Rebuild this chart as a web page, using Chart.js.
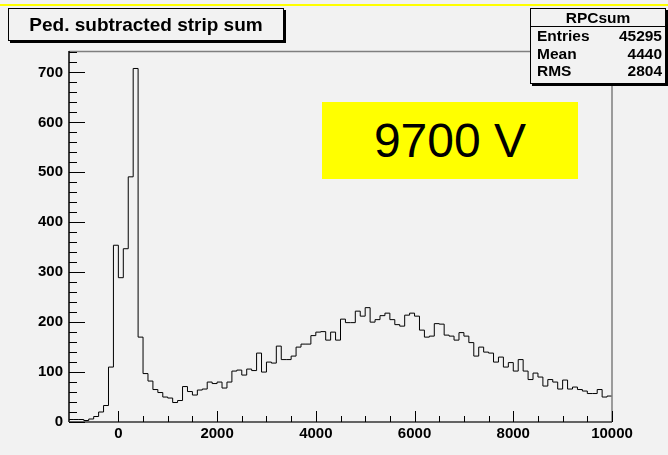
<!DOCTYPE html>
<html>
<head>
<meta charset="utf-8">
<script src="https://cdn.jsdelivr.net/npm/chart.js@4/dist/chart.umd.min.js"></script>
<style>
  html, body { margin: 0; padding: 0; background: #f2f2f2; }
  #wrap { position: relative; width: 668px; height: 455px; background: #f2f2f2; overflow: hidden; font-family: "Liberation Sans", Arial, sans-serif; }
  #topline { position: absolute; left: 0; top: 4px; width: 668px; height: 2px; background: #ffff00; }
  #c { position: absolute; left: 0; top: 0; }
  .box { position: absolute; background: #f2f2f2; border: 1px solid #000; box-shadow: 2px 2px 0 #000; box-sizing: border-box; }
  #title { left: 8px; top: 8px; width: 276px; height: 33px; font-weight: bold; font-size: 19px; text-align: center; line-height: 31px; color: #000; }
  #stats { left: 530px; top: 8px; width: 136px; height: 76px; font-weight: bold; font-size: 15.5px; color: #000; }
  #stats .hd { text-align: center; height: 17px; line-height: 17px; border-bottom: 1px solid #000; }
  #stats .row { position: relative; height: 17.5px; line-height: 17.5px; padding: 0 3px 0 6px; }
  #stats .row span.v { position: absolute; right: 3px; }
  #label { position: absolute; left: 322px; top: 102px; width: 256px; height: 77px; background: #ffff00; color: #000; font-size: 48px; text-align: center; line-height: 77px; }
</style>
</head>
<body>
<div id="wrap">
  <div id="topline"></div>
  <canvas id="c" width="668" height="455"></canvas>
  <div class="box" id="title">Ped. subtracted strip sum</div>
  <div class="box" id="stats">
    <div class="hd" id="statsName"></div>
    <div class="row"><span>Entries</span><span class="v" id="sEntries"></span></div>
    <div class="row"><span>Mean</span><span class="v" id="sMean"></span></div>
    <div class="row"><span>RMS</span><span class="v" id="sRms"></span></div>
  </div>
  <div id="label">9700 V</div>
</div>
<script>
// ---- data ----
const histName = "RPCsum";
const statEntries = 45295;
const statMean = 4440;
const statRms = 2804;
const binStart = -1000;
const binWidth = 100;
const counts = [
  5, 5, 5, 3, 6, 11, 20, 33, 110, 354,
  289, 347, 491, 708, 170, 97, 82, 65, 59, 50,
  48, 39, 43, 71, 61, 54, 64, 66, 80, 77,
  80, 68, 80, 102, 104, 94, 106, 103, 138, 100,
  120, 118, 152, 125, 125, 132, 150, 156, 156, 173,
  180, 181, 164, 180, 164, 206, 199, 199, 222, 212,
  229, 200, 205, 213, 218, 205, 195, 192, 214, 218,
  212, 184, 170, 172, 197, 196, 174, 172, 164, 179,
  172, 159, 132, 150, 140, 138, 120, 130, 110, 119,
  102, 125, 102, 85, 98, 90, 72, 85, 80, 66,
  84, 66, 70, 65, 62, 57, 57, 65, 50, 52
];
const xTickLabels = [0, 2000, 4000, 6000, 8000, 10000];
const yTickLabels = [0, 100, 200, 300, 400, 500, 600, 700];
const xMin = -1000, xMax = 10000;
const yMin = 0, yMax = 743;

document.getElementById('statsName').textContent = histName;
document.getElementById('sEntries').textContent = statEntries;
document.getElementById('sMean').textContent = statMean;
document.getElementById('sRms').textContent = statRms;

const points = counts.map((c, i) => ({ x: binStart + i * binWidth, y: c }));
points.push({ x: binStart + counts.length * binWidth, y: counts[counts.length - 1] });

const tickFont = { family: "'Liberation Sans', Arial, sans-serif", size: 15, weight: 'bold' };

const frameTicks = {
  id: 'frameTicks',
  afterDatasetsDraw(chart) {
    const { ctx, chartArea: a, scales: { x, y } } = chart;
    ctx.save();
    ctx.strokeStyle = '#7f7f7f';
    ctx.lineWidth = 1.5;
    ctx.beginPath();
    ctx.moveTo(a.left, a.top + 0.5); ctx.lineTo(a.right, a.top + 0.5);
    ctx.moveTo(a.right, a.top); ctx.lineTo(a.right, a.bottom);
    ctx.stroke();
    ctx.strokeStyle = '#000';
    ctx.lineWidth = 1.5;
    ctx.beginPath();
    ctx.moveTo(a.left, a.top); ctx.lineTo(a.left, a.bottom);
    ctx.stroke();
    ctx.strokeStyle = '#333';
    ctx.beginPath();
    ctx.moveTo(a.left, a.bottom); ctx.lineTo(a.right, a.bottom);
    ctx.stroke();
    ctx.strokeStyle = '#000';
    ctx.lineWidth = 1;
    ctx.beginPath();
    for (let v = 0; v <= yMax; v += 20) {
      const py = Math.round(y.getPixelForValue(v)) + 0.5;
      const len = (v % 100 === 0) ? 16 : 8;
      ctx.moveTo(a.left, py); ctx.lineTo(a.left + len, py);
    }
    ctx.stroke();
    ctx.beginPath();
    for (let v = 0; v <= xMax; v += 500) {
      const px = Math.round(x.getPixelForValue(v)) + 0.5;
      const len = (v % 2000 === 0) ? 11 : 6;
      ctx.moveTo(px, a.bottom); ctx.lineTo(px, a.bottom - len);
    }
    ctx.stroke();
    ctx.restore();
  }
};

new Chart(document.getElementById('c'), {
  type: 'line',
  data: {
    datasets: [{
      data: points,
      stepped: 'before',
      borderColor: '#000',
      borderWidth: 1,
      pointRadius: 0,
      fill: false,
      tension: 0
    }]
  },
  options: {
    responsive: false,
    animation: false,
    events: [],
    layout: { padding: { left: 0, right: 56, top: 51, bottom: 0 } },
    plugins: { legend: { display: false }, tooltip: { enabled: false }, title: { display: false } },
    scales: {
      x: {
        type: 'linear', min: xMin, max: xMax,
        grid: { display: false, drawTicks: false },
        border: { display: false },
        afterBuildTicks: (s) => { s.ticks = xTickLabels.map(v => ({ value: v })); },
        afterFit: (s) => { s.height = 33; },
        ticks: { font: tickFont, color: '#000', padding: 3, maxRotation: 0, autoSkip: false, callback: (v) => String(v) }
      },
      y: {
        type: 'linear', min: yMin, max: yMax,
        grid: { display: false, drawTicks: false },
        border: { display: false },
        afterBuildTicks: (s) => { s.ticks = yTickLabels.map(v => ({ value: v })); },
        afterFit: (s) => { s.width = 69; },
        ticks: { font: tickFont, color: '#000', padding: 6, autoSkip: false, callback: (v) => String(v) }
      }
    }
  },
  plugins: [frameTicks]
});
</script>
</body>
</html>
